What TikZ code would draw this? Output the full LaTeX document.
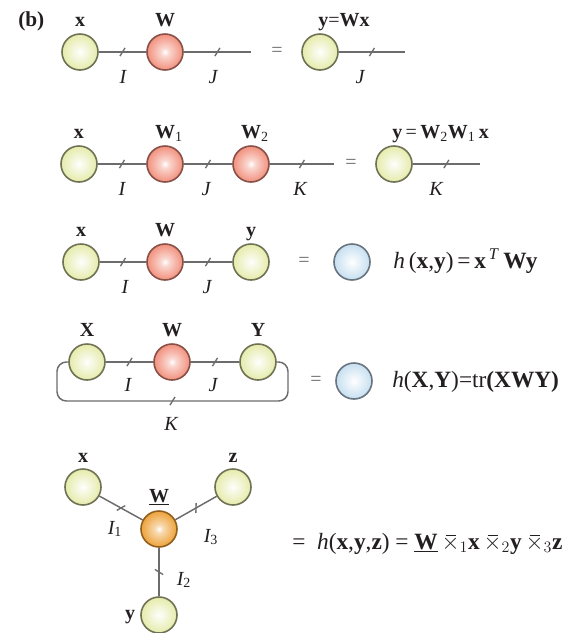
\documentclass[tikz,border=0pt]{standalone}
\usepackage{fontspec}
\setmainfont{Liberation Serif}
\usetikzlibrary{positioning}

\definecolor{ylwfill}{RGB}{220,228,140}
\definecolor{ylwline}{RGB}{112,114,84}
\definecolor{redfill}{RGB}{238,116,92}
\definecolor{redline}{RGB}{136,80,70}
\definecolor{blufill}{RGB}{164,204,232}
\definecolor{bluline}{RGB}{104,116,128}
\definecolor{orgfill}{RGB}{234,146,24}
\definecolor{orgline}{RGB}{146,96,30}
\definecolor{edgegray}{RGB}{108,108,108}
\definecolor{inkblack}{RGB}{35,31,32}

% glossy balls: soft white glow in the middle, colour at the rim
\pgfdeclareradialshading{ylwball}{\pgfpointorigin}{color(0bp)=(white); color(6bp)=(ylwfill!20!white); color(22bp)=(ylwfill!65!white); color(38bp)=(ylwfill); color(50bp)=(ylwfill!94!black)}
\pgfdeclareradialshading{redball}{\pgfpointorigin}{color(0bp)=(white); color(6bp)=(redfill!30!white); color(22bp)=(redfill!72!white); color(38bp)=(redfill); color(50bp)=(redfill!94!black)}
\pgfdeclareradialshading{bluball}{\pgfpointorigin}{color(0bp)=(white); color(7bp)=(blufill!18!white); color(24bp)=(blufill!60!white); color(40bp)=(blufill); color(50bp)=(blufill!94!black)}
\pgfdeclareradialshading{orgball}{\pgfpointorigin}{color(0bp)=(white); color(6bp)=(orgfill!35!white); color(22bp)=(orgfill!78!white); color(38bp)=(orgfill); color(50bp)=(orgfill!92!black)}

\newcommand{\lblfont}{\fontsize{15}{18}\selectfont}
\newcommand{\rhsfont}{\fontsize{17.5}{21}\selectfont}
% mode-n product sign: times with a bar sitting on it
\newcommand{\tbar}[1]{\ensuremath{\mbox{\ooalign{$\times$\cr\hidewidth\rule[0.56em]{0.42em}{0.035em}\hidewidth\cr}}_{#1}}}

\begin{document}
\begin{tikzpicture}[
        x=0.75pt, y=-0.75pt,
        % tensor balls
        ball/.style={circle, minimum size=27pt, inner sep=0pt, line width=1.2pt, shade},
        vec/.style={ball, draw=ylwline, shading=ylwball},
        mat/.style={ball, draw=redline, shading=redball},
        scal/.style={ball, draw=bluline, shading=bluball},
        tens/.style={ball, draw=orgline, shading=orgball},
        % index lines and their little slash
        edge/.style={draw=edgegray, line width=1.1pt},
        tick/.pic={\draw[edgegray, line width=1pt] (-1.9pt,-3.1pt) -- (1.9pt,3.1pt);},
        % texts
        lbl/.style={font=\lblfont\bfseries, text=inkblack, inner sep=0pt, anchor=base},
        idx/.style={font=\lblfont\itshape, text=inkblack, inner sep=0pt, anchor=base},
        eqs/.style={font=\lblfont, text=edgegray, inner sep=0pt},
        rhs/.style={font=\rhsfont, text=inkblack, inner sep=0pt, anchor=base west}
    ]
    \useasboundingbox (0,0) rectangle (575,633);

    \node[font=\fontsize{16}{19}\selectfont\bfseries, text=inkblack, inner sep=0pt, anchor=base west] (tagb) at (18,26) {(b)};

    % --- row 1: y = Wx ---
    \node[vec] (x1) at (80,52) {};
    \node[mat] (W1) at (165,52) {};
    \coordinate (e1) at (251,52);
    \node[eqs] (eq1) at (277,52) {=};
    \node[vec] (y1) at (320,52) {};
    \coordinate (e2) at (405,52);
    \draw[edge] (x1) -- pic[midway]{tick} (W1);
    \draw[edge] (W1) -- pic[midway]{tick} (e1);
    \draw[edge] (y1) -- pic[midway]{tick} (e2);
    \node[lbl] (lx1) at ([yshift=5pt]x1.north) {x};
    \node[lbl] (lW1) at ([yshift=5pt]W1.north) {W};
    \node[lbl] (ly1) at ([xshift=18pt, yshift=5pt]y1.north) {y{\mdseries=}Wx};
    \node[idx] (i1) at (123,83) {I};
    \node[idx] (j1) at (213,83) {J};
    \node[idx] (j2) at (360,83) {J};

    % --- row 2: y = W2 W1 x ---
    \node[vec] (x2) at (79,164) {};
    \node[mat] (Wa) at (165,164) {};
    \node[mat] (Wb) at (251,164) {};
    \coordinate (e3) at (334,164);
    \node[eqs] (eq2) at (351,164) {=};
    \node[vec] (y2) at (394,164) {};
    \coordinate (e4) at (480,164);
    \draw[edge] (x2) -- pic[midway]{tick} (Wa);
    \draw[edge] (Wa) -- pic[midway]{tick} (Wb);
    \draw[edge] (Wb) -- pic[midway]{tick} (e3);
    \draw[edge] (y2) -- pic[midway]{tick} (e4);
    \node[lbl] (lx2) at ([yshift=5pt]x2.north) {x};
    \node[lbl] (lWa) at ([xshift=3pt, yshift=5pt]Wa.north) {W\textsubscript{\mdseries 1}};
    \node[lbl] (lWb) at ([xshift=3pt, yshift=5pt]Wb.north) {W\textsubscript{\mdseries 2}};
    \node[lbl] (ly2) at ([xshift=35pt, yshift=5pt]y2.north) {y{\mdseries\,=\,}W\textsubscript{\mdseries 2}W\textsubscript{\mdseries 1}\,x};
    \node[idx] (i2) at (122,195) {I};
    \node[idx] (j3) at (206,195) {J};
    \node[idx] (k1) at (300,195) {K};
    \node[idx] (k2) at (436,195) {K};

    % --- row 3: bilinear form ---
    \node[vec] (x3) at (81,262) {};
    \node[mat] (W3) at (165,262) {};
    \node[vec] (y3) at (251,262) {};
    \node[eqs] (eq3) at (304,262) {=};
    \node[scal] (s3) at (352,262) {};
    \draw[edge] (x3) -- pic[midway]{tick} (W3);
    \draw[edge] (W3) -- pic[midway]{tick} (y3);
    \node[lbl] (lx3) at ([yshift=5pt]x3.north) {x};
    \node[lbl] (lW3) at ([yshift=5pt]W3.north) {W};
    \node[lbl] (ly3) at ([yshift=5pt]y3.north) {y};
    \node[idx] (i3) at (125,293) {I};
    \node[idx] (j4) at (207,293) {J};
    \node[rhs] (f3) at (393,268) {\textit{h}\,(\textbf{x},\textbf{y})\,=\,\textbf{x}\textsuperscript{\,\textit{T}}\,\textbf{Wy}};

    % --- row 4: trace ---
    \node[vec] (X4) at (87,362) {};
    \node[mat] (W4) at (172,362) {};
    \node[vec] (Y4) at (258,362) {};
    \coordinate (lpL) at (57,401);
    \coordinate (lpR) at (288,401);
    \node[eqs] (eq4) at (316,381) {=};
    \node[scal] (s4) at (354,381) {};
    \draw[edge] (X4) -- pic[midway]{tick} (W4);
    \draw[edge] (W4) -- pic[midway]{tick} (Y4);
    \draw[edge, rounded corners=7pt] (X4.west) -| (lpL) -- pic[midway]{tick} (lpR) |- (Y4.east);
    \node[lbl] (lX4) at ([yshift=5pt]X4.north) {X};
    \node[lbl] (lW4) at ([yshift=5pt]W4.north) {W};
    \node[lbl] (lY4) at ([yshift=5pt]Y4.north) {Y};
    \node[idx] (i4) at (128,391) {I};
    \node[idx] (j5) at (213,391) {J};
    \node[idx] (k3) at (171,430) {K};
    \node[rhs] (f4) at (392,387) {\textit{h}(\textbf{X},\textbf{Y})=tr\textbf{(XWY)}};

    % --- third-order tensor ---
    \node[tens] (W5) at (159,529) {};
    \node[vec] (x5) at (83,487) {};
    \node[vec] (z5) at (233,487) {};
    \node[vec] (y5) at (159,615) {};
    \draw[edge] (W5) -- pic[midway, sloped]{tick} (x5);
    \draw[edge] (W5) -- pic[midway, sloped]{tick} (z5);
    \draw[edge] (W5) -- pic[midway, sloped]{tick} (y5);
    \node[lbl] (lx5) at ([yshift=4pt]x5.north) {x};
    \node[lbl] (lz5) at ([yshift=4pt]z5.north) {z};
    \node[lbl] (lW5) at ([yshift=6pt]W5.north) {\underline{W}};
    \node[lbl] (ly5) at (130,619) {y};
    \node[idx, anchor=center] (i5) at (115,529) {I\textsubscript{\upshape 1}};
    \node[idx, anchor=center] (i6) at (211,537) {I\textsubscript{\upshape 3}};
    \node[idx, anchor=center] (i7) at (184,580) {I\textsubscript{\upshape 2}};
    \node[rhs] (f5) at (292,549) {=\ \ \textit{h}(\textbf{x},\textbf{y},\textbf{z})\ =\ \underline{\textbf{W}}\,\tbar{1}\textbf{x}\,\tbar{2}\textbf{y}\,\tbar{3}\textbf{z}};

\end{tikzpicture}
\end{document}
